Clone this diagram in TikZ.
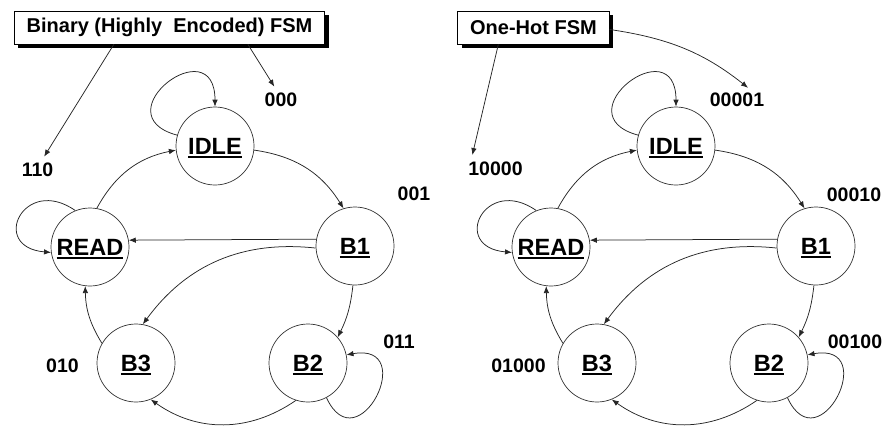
\documentclass[tikz,border=0pt]{standalone}
\usepackage{fontspec}
\setmainfont{Liberation Sans}
\usetikzlibrary{arrows.meta,shadows}

\newcommand{\stlabel}[1]{\setbox0\hbox{#1}\rlap{\smash{\rule[-3.8pt]{\wd0}{2pt}}}\box0}

\begin{document}
\begin{tikzpicture}
  [x=1pt,y=1pt,
   stateN/.style={circle,draw=black!80,line width=0.7pt,minimum size=78pt,
                  inner sep=0pt,font=\fontsize{23.5}{28}\selectfont\bfseries},
   codeN/.style={inner sep=2pt,font=\fontsize{19.5}{23}\selectfont\bfseries},
   titleN/.style={draw,fill=white,line width=0.7pt,minimum height=33pt,
                  inner xsep=12.5pt,font=\fontsize{20}{24}\selectfont\bfseries,
                  drop shadow={shadow xshift=4pt,shadow yshift=-4pt,fill=black,opacity=1}},
   transN/.style={-{Latex[length=7pt,width=5.5pt]},draw=black!85,line width=0.75pt},
   tagN/.style={transN,shorten >=5pt}]

  \useasboundingbox (0,0) rectangle (888,-426);

  % binary encoded
  \node[titleN] (titleA) at (169.5,-27.5) {Binary (Highly\ \ Encoded) FSM};

  \node[stateN] (idleA) at (215,-146) {\stlabel{IDLE}};
  \node[stateN] (readA) at  (90,-247) {\stlabel{READ}};
  \node[stateN] (b1A)   at (355,-246) {\stlabel{B1}};
  \node[stateN] (b2A)   at (308,-363) {\stlabel{B2}};
  \node[stateN] (b3A)   at (136,-363) {\stlabel{B3}};

  \node[codeN] (c000) at (281,-100)  {000};
  \node[codeN] (c110) at (37.5,-170) {110};
  \node[codeN] (c001) at (414,-194)  {001};
  \node[codeN] (c010) at (62.5,-366) {010};
  \node[codeN] (c011) at (399,-342)  {011};

  \draw [tagN] ([xshift=100pt]titleA.south west) -- ([xshift=4pt]c110.north);
  \draw [tagN] ([xshift=234pt]titleA.south west) -- ([xshift=-4pt]c000.north);

  \draw [transN] (idleA.164) to[out=165,in=90,looseness=4.3] (idleA.90);
  \draw [transN] (readA.80)  to[bend left=25] (idleA.186);
  \draw [transN] (idleA.-6)  to[bend left=25] (b1A.107);
  \draw [transN] (b1A.170)   -- (readA.10);
  \draw [transN] (b1A.183)   to[bend right=30] (b3A.80);
  \draw [transN] (b1A.-93)   to[bend left=10] (b2A.41);
  \draw [transN] (b2A.-62)   to[out=-65,in=10,looseness=4] (b2A.12);
  \draw [transN] (b2A.-108)  to[bend left=35] (b3A.-68);
  \draw [transN] (b3A.150)   to[bend left=15] (readA.-97);
  \draw [transN] (readA.112) to[out=145,in=175,looseness=3.3] (readA.188);

  % one-hot
  \node[titleN] (titleB) at (533.5,-27.5) {One-Hot FSM};

  \node[stateN] (idleB) at (676,-146) {\stlabel{IDLE}};
  \node[stateN] (readB) at (551,-247) {\stlabel{READ}};
  \node[stateN] (b1B)   at (816,-246) {\stlabel{B1}};
  \node[stateN] (b2B)   at (769,-363) {\stlabel{B2}};
  \node[stateN] (b3B)   at (597,-363) {\stlabel{B3}};

  \node[codeN] (c00001) at (737,-100)   {00001};
  \node[codeN] (c10000) at (495.5,-169) {10000};
  \node[codeN] (c00010) at (854,-195)   {00010};
  \node[codeN] (c01000) at (518.5,-366) {01000};
  \node[codeN] (c00100) at (855,-342)   {00100};

  \draw [tagN] ([xshift=41pt]titleB.south west) -- ([xshift=5pt]c10000.north west);
  \draw [tagN] ([yshift=-2pt]titleB.east) to[bend left=15] ([xshift=15pt]c00001.north);

  \draw [transN] (idleB.164) to[out=165,in=90,looseness=4.3] (idleB.90);
  \draw [transN] (readB.80)  to[bend left=25] (idleB.186);
  \draw [transN] (idleB.-6)  to[bend left=25] (b1B.107);
  \draw [transN] (b1B.170)   -- (readB.10);
  \draw [transN] (b1B.183)   to[bend right=30] (b3B.80);
  \draw [transN] (b1B.-93)   to[bend left=10] (b2B.41);
  \draw [transN] (b2B.-62)   to[out=-65,in=10,looseness=4] (b2B.12);
  \draw [transN] (b2B.-108)  to[bend left=35] (b3B.-68);
  \draw [transN] (b3B.150)   to[bend left=15] (readB.-97);
  \draw [transN] (readB.112) to[out=145,in=175,looseness=3.3] (readB.188);
\end{tikzpicture}
\end{document}
